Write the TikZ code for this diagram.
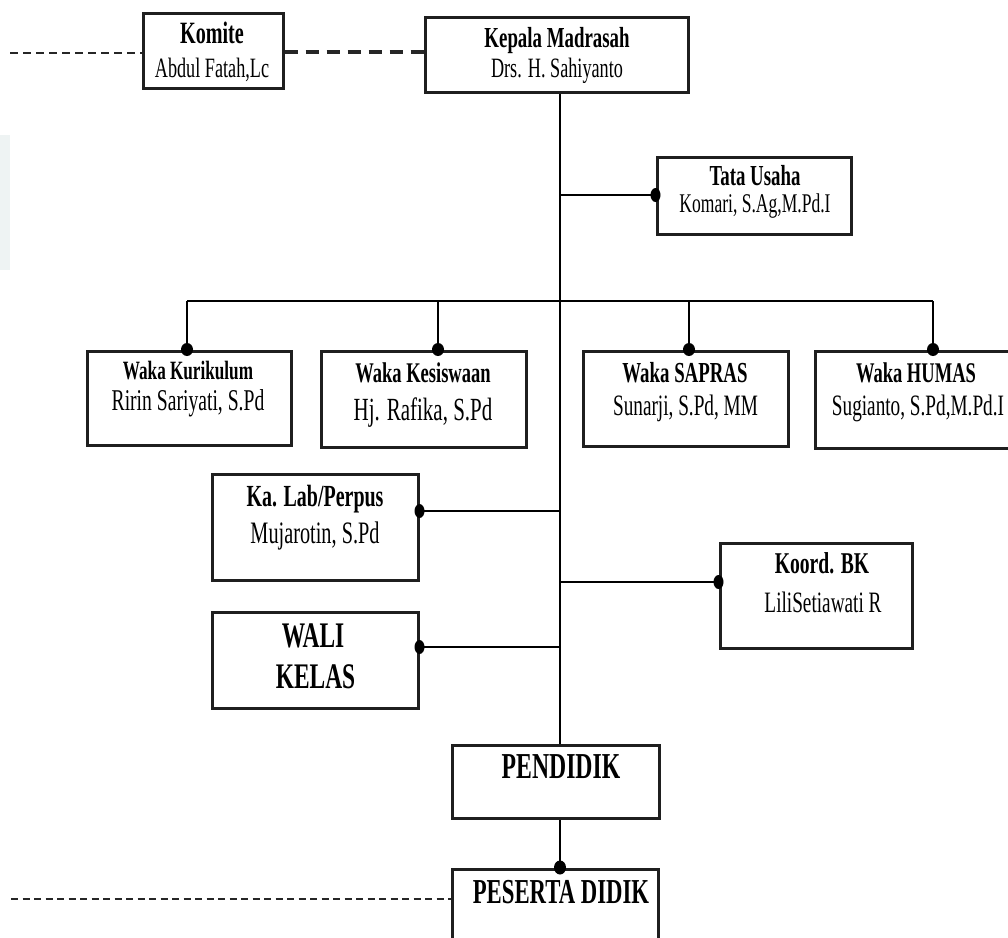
\documentclass[tikz,border=0pt]{standalone}
\usepackage{fontspec}
\setmainfont[FakeStretch=0.65]{Liberation Serif}
\begin{document}
\begin{tikzpicture}[x=1pt,y=-1pt,
  box/.style={draw=black!88, line width=3pt, inner sep=0pt, fill=white},
  conn/.style={draw=black, line width=2.4pt},
  dot/.style={fill=black},
  dashA/.style={draw=black!85, line width=2.5pt, dash pattern=on 8pt off 5pt},
  dashB/.style={draw=black!85, line width=4pt, dash pattern=on 13pt off 8pt},
  dashC/.style={draw=black!85, line width=2.8pt, dash pattern=on 7pt off 4.5pt},
  ttl/.style={anchor=base, inner sep=0pt, font=\fontsize{#1}{#1}\selectfont\bfseries},
  nm/.style={anchor=base, inner sep=0pt, font=\fontsize{#1}{#1}\selectfont},
]
\useasboundingbox (0,0) rectangle (1008,937);
\fill[fill={rgb,255:red,238;green,243;blue,243}] (0,135) rectangle (10,270);

% coordinates for connector routing
\coordinate (dl1) at (10,53);
\coordinate (dm) at (0,52);
\coordinate (dl3) at (11,899);
\coordinate (b1) at (187,301);
\coordinate (b2) at (438,301);
\coordinate (b3) at (689,301);
\coordinate (b4) at (933,301);
\coordinate (ytata) at (0,195);
\coordinate (ylab) at (0,511);
\coordinate (ybk) at (0,582);
\coordinate (ywali) at (0,647);

% connectors first (behind boxes)
\draw[conn] (560,92) coordinate (tktop) -- (560,745) coordinate (tkbot);
\draw[conn] (tktop |- ytata) -- (657,195) coordinate (ctata);
\draw[conn] (b1) -- (b4);
\draw[conn] (b1) -- (187,351) coordinate (cw1);
\draw[conn] (b2) -- (438,351) coordinate (cw2);
\draw[conn] (b3) -- (689,351) coordinate (cw3);
\draw[conn] (b4) -- (933,351) coordinate (cw4);
\draw[conn] (tktop |- ylab) -- (419,511) coordinate (clab);
\draw[conn] (tktop |- ybk) -- (720,582) coordinate (cbk);
\draw[conn] (tktop |- ywali) -- (419,647) coordinate (cwali);
\draw[conn] (560,818) coordinate (cpend) -- (560,869) coordinate (cpes);

% boxes
\node[box, minimum width=140pt, minimum height=75pt] (komite) at (213,50.5) {};
\node[box, minimum width=263pt, minimum height=75pt] (kepala) at (556.5,54.5) {};
\node[box, minimum width=194pt, minimum height=77pt] (tata) at (754,195.5) {};
\node[box, minimum width=204pt, minimum height=94pt] (wk1) at (189,398) {};
\node[box, minimum width=205pt, minimum height=96pt] (wk2) at (423.5,399) {};
\node[box, minimum width=205pt, minimum height=95pt] (wk3) at (685.5,398.5) {};
\node[box, minimum width=197pt, minimum height=97pt] (wk4) at (913.5,399.5) {};
\node[box, minimum width=206pt, minimum height=106pt] (lab) at (315,527) {};
\node[box, minimum width=192pt, minimum height=105pt] (bk) at (816,595.5) {};
\node[box, minimum width=206pt, minimum height=96pt] (wali) at (315,660) {};
\node[box, minimum width=207pt, minimum height=73pt] (pendidik) at (555.5,781.5) {};
\node[box, minimum width=206pt, minimum height=81pt] (peserta) at (555,909.5) {};

% dashed links
\draw[dashA] (dl1) -- (komite.west |- dl1);
\draw[dashB] (komite.east |- dm) -- (kepala.west |- dm);
\draw[dashC] (dl3) -- (peserta.west |- dl3);

% dots
\fill[dot] (tata.west |- ctata) ellipse [x radius=5pt, y radius=7pt];
\fill[dot] (wk1.north -| cw1) ellipse [x radius=6pt, y radius=6.5pt];
\fill[dot] (wk2.north -| cw2) ellipse [x radius=6pt, y radius=6.5pt];
\fill[dot] (wk3.north -| cw3) ellipse [x radius=6pt, y radius=6.5pt];
\fill[dot] (wk4.north -| cw4) ellipse [x radius=6pt, y radius=6.5pt];
\fill[dot] (lab.east |- clab) ellipse [x radius=5pt, y radius=7pt];
\fill[dot] (bk.west |- cbk) ellipse [x radius=5pt, y radius=7pt];
\fill[dot] (wali.east |- cwali) ellipse [x radius=5pt, y radius=7pt];
\fill[dot] (peserta.north -| cpes) ellipse [x radius=6pt, y radius=7pt];

% texts
\node[ttl=31] (komite-t) at (212,43) {Komite};
\node[nm=28] (komite-n) at (212,77) {Abdul Fatah,Lc};
\node[ttl=29] (kepala-t) at (557,47) {Kepala Madrasah};
\node[nm=28] (kepala-n) at (557,77) {Drs. H. Sahiyanto};
\node[ttl=29] (tata-t) at (755,185) {Tata Usaha};
\node[nm=27] (tata-n) at (755,212) {Komari, S.Ag,M.Pd.I};
\node[ttl=26.4] (wk1-t) at (188,379) {Waka Kurikulum};
\node[nm=30.2] (wk1-n) at (188,410) {Ririn Sariyati, S.Pd};
\node[ttl=28.5] (wk2-t) at (423,382) {Waka Kesiswaan};
\node[nm=32.3] (wk2-n) at (423,420) {Hj. Rafika, S.Pd};
\node[ttl=29] (wk3-t) at (685,382) {Waka SAPRAS};
\node[nm=29.6] (wk3-n) at (685.5,415) {Sunarji, S.Pd, MM};
\node[ttl=28.5] (wk4-t) at (916,382) {Waka HUMAS};
\node[nm=29.6] (wk4-n) at (918,415) {Sugianto, S.Pd,M.Pd.I};
\node[ttl=30.7] (lab-t) at (315,506) {Ka. Lab/Perpus};
\node[nm=31.2] (lab-n) at (315,543) {Mujarotin, S.Pd};
\node[ttl=30.2] (bk-t) at (822,573) {Koord. BK};
\node[nm=29.6] (bk-n) at (823,612) {LiliSetiawati R};
\node[ttl=36] (wali-t) at (313,647) {WALI};
\node[ttl=36] (wali-t2) at (315.5,688) {KELAS};
\node[ttl=36.5] (pendidik-t) at (561,778) {PENDIDIK};
\node[ttl=35] (peserta-t) at (561,903) {PESERTA DIDIK};
\end{tikzpicture}
\end{document}
